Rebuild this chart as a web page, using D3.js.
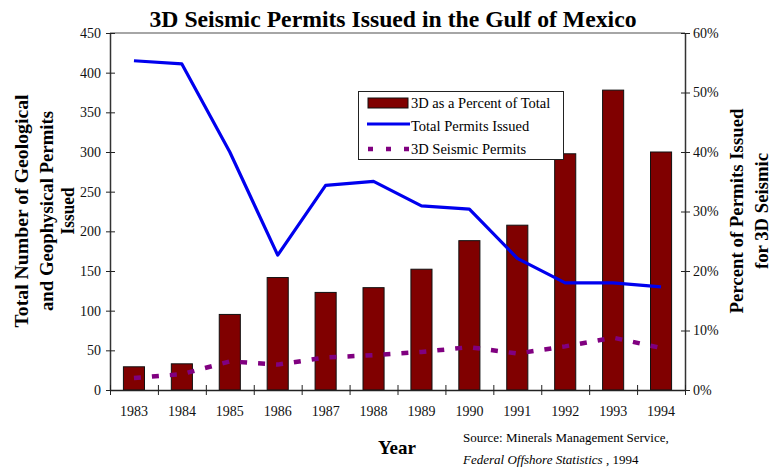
<!DOCTYPE html>
<html>
<head>
<meta charset="utf-8">
<script src="https://cdn.jsdelivr.net/npm/d3@7/dist/d3.min.js"></script>
<style>
  html, body { margin: 0; padding: 0; background: #fff; }
  svg { display: block; }
  svg text { font-family: "Liberation Serif", "Times New Roman", serif; }
</style>
</head>
<body>
<svg id="chart" width="778" height="471"></svg>
<script>
// ---- data ----
const years = ["1983","1984","1985","1986","1987","1988","1989","1990","1991","1992","1993","1994"];
const pct3D = [3.9, 4.4, 12.7, 18.9, 16.4, 17.2, 20.3, 25.1, 27.7, 39.7, 50.4, 40.0];
const totalPermits = [415, 411, 300, 170, 258, 263, 232, 228, 166, 135, 135, 130];
const seismic3D = [15, 20, 36, 32, 41, 44, 48, 54, 46, 55, 66, 53];
const leftTicks = [0, 50, 100, 150, 200, 250, 300, 350, 400, 450];
const rightTicks = [0, 10, 20, 30, 40, 50, 60];

const FONT = "Liberation Serif";
const svg = d3.select("#chart");
const L = 110, R = 685, T = 33, B = 390;

const x = d3.scaleBand().domain(years).range([L, R]).padding(0);
const xIdx = d3.scaleLinear().domain([0, years.length]).range([L, R]);
const yL = d3.scaleLinear().domain([0, 450]).range([B, T]);
const yR = d3.scaleLinear().domain([0, 60]).range([B, T]);
const bw = x.bandwidth();
const cx = d => x(d) + bw / 2;

// top frame line
svg.append("line").attr("x1", L).attr("x2", R).attr("y1", T).attr("y2", T)
  .attr("stroke", "#888").attr("stroke-width", 1.5);

// bars
svg.append("g").selectAll("rect").data(years).join("rect")
  .attr("x", d => x(d) + bw * 0.28)
  .attr("width", bw * 0.44)
  .attr("y", (d, i) => yR(pct3D[i]))
  .attr("height", (d, i) => B - yR(pct3D[i]))
  .attr("fill", "#800000").attr("stroke", "#111").attr("stroke-width", 1);

// total permits line
const lineGen = d3.line().x((d, i) => cx(years[i])).y(d => yL(d));
svg.append("path").datum(totalPermits).attr("d", lineGen)
  .attr("fill", "none").attr("stroke", "#0000ee").attr("stroke-width", 3.2)
  .attr("stroke-linejoin", "round");

// 3D seismic dashed line
svg.append("path").datum(seismic3D).attr("d", lineGen)
  .attr("fill", "none").attr("stroke", "#800080").attr("stroke-width", 4.5)
  .attr("stroke-dasharray", "7,11");

// left axis
const gL = svg.append("g").attr("transform", `translate(${L},0)`)
  .call(d3.axisLeft(yL).tickValues(leftTicks).tickSize(0).tickPadding(9).tickFormat(d3.format("d")));
gL.attr("font-family", FONT);
gL.select(".domain").attr("stroke", "#333").attr("stroke-width", 1.5);
gL.selectAll(".tick line").attr("x1", -4).attr("x2", 5).attr("stroke", "#222");
gL.selectAll("text").attr("font-size", 14).attr("font-family", FONT).attr("fill", "#111");

// right axis
const gR = svg.append("g").attr("transform", `translate(${R},0)`)
  .call(d3.axisRight(yR).tickValues(rightTicks).tickSize(0).tickPadding(8).tickFormat(d => d + "%"));
gR.attr("font-family", FONT);
gR.select(".domain").attr("stroke", "#333").attr("stroke-width", 1.5);
gR.selectAll(".tick line").attr("x1", -4).attr("x2", 5).attr("stroke", "#222");
gR.selectAll("text").attr("font-size", 14).attr("font-family", FONT).attr("fill", "#111");

// bottom axis: boundary ticks
const gB = svg.append("g").attr("transform", `translate(0,${B})`)
  .call(d3.axisBottom(xIdx).tickValues(d3.range(0, years.length + 1)).tickSize(0).tickFormat(""));
gB.select(".domain").attr("stroke", "#222").attr("stroke-width", 1.5);
gB.selectAll(".tick line").attr("y1", -5).attr("y2", 5).attr("stroke", "#222");

// bottom axis labels
const gBL = svg.append("g").attr("transform", `translate(0,${B})`)
  .call(d3.axisBottom(x).tickSize(0).tickPadding(16));
gBL.attr("font-family", FONT);
gBL.select(".domain").remove();
gBL.selectAll("text").attr("font-size", 14).attr("font-family", FONT).attr("fill", "#111");

// title
svg.append("text").attr("x", 393).attr("y", 27).attr("text-anchor", "middle")
  .attr("font-family", FONT).attr("font-size", 23).attr("font-weight", "bold")
  .attr("textLength", 487).attr("lengthAdjust", "spacingAndGlyphs")
  .text("3D Seismic Permits Issued in the Gulf of Mexico");

// left axis titles
const leftTitle = [
  {t: "Total Number of Geological", x: 28, len: 233},
  {t: "and Geophysical Permits", x: 53, len: 200},
  {t: "Issued", x: 74, len: 47}
];
leftTitle.forEach(o => {
  svg.append("text").attr("transform", `translate(${o.x},211) rotate(-90)`)
    .attr("text-anchor", "middle").attr("font-family", FONT).attr("font-size", 18).attr("font-weight", "bold")
    .attr("textLength", o.len).attr("lengthAdjust", "spacingAndGlyphs")
    .text(o.t);
});

// right axis titles
const rightTitle = [
  {t: "Percent of Permits Issued", x: 743, len: 205},
  {t: "for 3D Seismic", x: 768, len: 116}
];
rightTitle.forEach(o => {
  svg.append("text").attr("transform", `translate(${o.x},211) rotate(-90)`)
    .attr("text-anchor", "middle").attr("font-family", FONT).attr("font-size", 18).attr("font-weight", "bold")
    .attr("textLength", o.len).attr("lengthAdjust", "spacingAndGlyphs")
    .text(o.t);
});

// x title
svg.append("text").attr("x", 397).attr("y", 454).attr("text-anchor", "middle")
  .attr("font-family", FONT).attr("font-size", 19).attr("font-weight", "bold").text("Year");

// source
svg.append("text").attr("x", 463).attr("y", 442).attr("font-family", FONT).attr("font-size", 13)
  .text("Source: Minerals Management Service,");
const src2 = svg.append("text").attr("x", 463).attr("y", 464).attr("font-family", FONT).attr("font-size", 13);
src2.append("tspan").attr("font-style", "italic").text("Federal Offshore Statistics");
src2.append("tspan").text(" , 1994");

// legend
const lg = svg.append("g");
lg.append("rect").attr("x", 358.5).attr("y", 91.5).attr("width", 205).attr("height", 68)
  .attr("fill", "#fff").attr("stroke", "#222").attr("stroke-width", 1);
lg.append("rect").attr("x", 368).attr("y", 98).attr("width", 40).attr("height", 10)
  .attr("fill", "#800000").attr("stroke", "#111");
lg.append("line").attr("x1", 367).attr("x2", 410).attr("y1", 124).attr("y2", 124)
  .attr("stroke", "#0000ee").attr("stroke-width", 3);
lg.append("line").attr("x1", 368).attr("x2", 410).attr("y1", 149).attr("y2", 149)
  .attr("stroke", "#800080").attr("stroke-width", 4.5).attr("stroke-dasharray", "5,13");
const legendItems = ["3D as a Percent of Total", "Total Permits Issued", "3D Seismic Permits"];
lg.selectAll("text.li").data(legendItems).join("text").attr("class", "li")
  .attr("x", 411).attr("y", (d, i) => 108 + i * 23)
  .attr("font-family", FONT).attr("font-size", 14.5).text(d => d);
</script>
</body>
</html>
